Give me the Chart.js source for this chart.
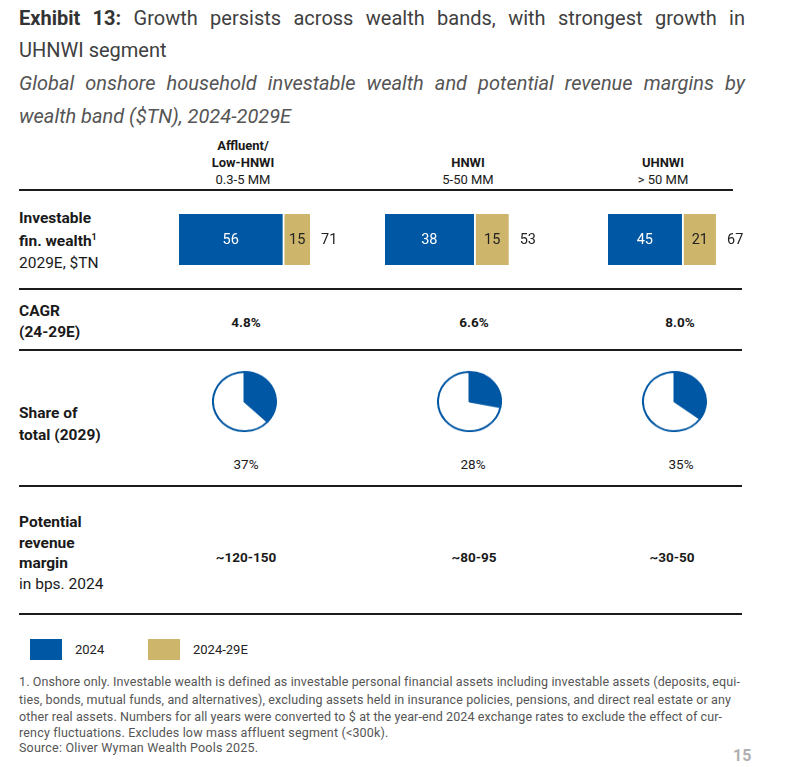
<!DOCTYPE html>
<html lang="en">
<head>
<meta charset="UTF-8">
<title>Exhibit 13</title>
<style>
    body {
        margin: 0;
        background: #fff;
        font-family: Roboto, "Noto Sans", sans-serif;
        color: #222;
    }
    #page {
        position: relative;
        width: 806px;
        height: 767px;
        overflow: hidden;
    }
    .t {
        position: absolute;
        white-space: nowrap;
    }
    .title {
        left: 19px;
        width: 726px;
        height: 33px;
        line-height: 33px;
        font-size: 20px;
        color: #404040;
    }
    .just {
        text-align: justify;
        text-align-last: justify;
    }
    .title b { color: #333; }
    .sub { font-style: italic; color: #555; }
    .rule {
        position: absolute;
        left: 19px;
        height: 2px;
        background: #1c1c1c;
    }
    .head {
        width: 140px;
        text-align: center;
        font-size: 13px;
        line-height: 17px;
        color: #1a1a1a;
    }
    .rowlab {
        left: 19px;
        font-size: 15.5px;
        font-weight: bold;
        color: #1a1a1a;
    }
    .rowlab span { font-weight: normal; }
    .rowlab sup { font-size: 9px; vertical-align: 6px; line-height: 0; }
    .val {
        width: 120px;
        text-align: center;
        font-size: 13.5px;
        line-height: 20px;
        color: #1a1a1a;
    }
    .sq {
        position: absolute;
        width: 32px;
        height: 21px;
        top: 639px;
    }
    .legtxt { top: 640px; font-size: 13px; line-height: 20px; color: #222; }
    .foot {
        left: 19px;
        font-size: 12.5px;
        line-height: 16px;
        color: #555;
        display: inline-block;
    }
    .pg { left: 733px; top: 746px; font-size: 16px; font-weight: bold; color: #b0b0b0; line-height: 20px; }
    canvas.bar, canvas.pie { position: absolute; }
    canvas.pie { transform: scaleY(0.94); }
</style>
</head>
<body>
<div id="page">
    <div class="t title just" style="top:2px"><b>Exhibit 13:</b> Growth persists across wealth bands, with strongest growth in</div>
    <div class="t title" style="top:34px">UHNWI segment</div>
    <div class="t title sub just" style="top:67px">Global onshore household investable wealth and potential revenue margins by</div>
    <div class="t title sub" style="top:100px">wealth band ($TN), 2024-2029E</div>

    <div class="rule" style="top:189px;width:714px"></div>
    <div class="rule" style="top:288px;width:723px"></div>
    <div class="rule" style="top:349px;width:723px"></div>
    <div class="rule" style="top:485px;width:723px"></div>
    <div class="rule" style="top:613px;width:723px"></div>

    <div class="t rowlab" style="top:207px;line-height:22.5px">Investable<br>fin. wealth<sup>1</sup><br><span>2029E, $TN</span></div>
    <div class="t rowlab" style="top:301px;line-height:21px">CAGR<br>(24-29E)</div>
    <div class="t rowlab" style="top:402px;line-height:22px">Share of<br>total (2029)</div>
    <div class="t rowlab" style="top:512px;line-height:20.7px">Potential<br>revenue<br>margin<br><span>in bps. 2024</span></div>

    <div class="sq" id="sq0" style="left:30px"></div>
    <div class="t legtxt" id="lg0" style="left:75px"></div>
    <div class="sq" id="sq1" style="left:148px"></div>
    <div class="t legtxt" id="lg1" style="left:193px"></div>

    <div class="t foot fit" data-w="720" style="top:674px">1. Onshore only. Investable wealth is defined as investable personal financial assets including investable assets (deposits, equi-</div>
    <div class="t foot fit" data-w="712" style="top:692px">ties, bonds, mutual funds, and alternatives), excluding assets held in insurance policies, pensions, and direct real estate or any</div>
    <div class="t foot fit" data-w="703" style="top:709px">other real assets. Numbers for all years were converted to $ at the year-end 2024 exchange rates to exclude the effect of cur-</div>
    <div class="t foot fit" data-w="368" style="top:725px">rency fluctuations. Excludes low mass affluent segment (&lt;300k).</div>
    <div class="t foot fit" data-w="239" style="top:740px">Source: Oliver Wyman Wealth Pools 2025.</div>
    <div class="t pg">15</div>
</div>

<script src="https://cdn.jsdelivr.net/npm/chart.js"></script>
<script>
    // data read from the exhibit
    const bandNames = [['Affluent/', 'Low-HNWI'], ['HNWI'], ['UHNWI']];
    const bandRanges = ['0.3-5 MM', '5-50 MM', '> 50 MM'];
    const seriesNames = ['2024', '2024-29E'];
    const wealth2024 = [56, 38, 45];
    const growth2429 = [15, 15, 21];
    const wealth2029 = [71, 53, 67];
    const cagr = [4.8, 6.6, 8.0];
    const share2029 = [37, 28, 35];
    const revenueMargin = ['~120-150', '~80-95', '~30-50'];

    // layout (px)
    const headX = [243, 468, 663];
    const barLeft = [179, 385, 608];
    const pxPerUnit = [1.845, 2.334, 1.636];
    const pieX = [244, 469, 674];
    const cagrX = [246, 474, 680];
    const shareX = [246, 473, 681];
    const marginX = [246, 474, 672];

    const BLUE = '#0057a4';
    const GOLD = '#cdb56c';
    const page = document.getElementById('page');

    document.getElementById('sq0').style.background = BLUE;
    document.getElementById('sq1').style.background = GOLD;
    document.getElementById('lg0').textContent = seriesNames[0];
    document.getElementById('lg1').textContent = seriesNames[1];

    function addText(cls, x, top, html) {
        const d = document.createElement('div');
        d.className = 't ' + cls;
        d.style.left = (x - 60) + 'px';
        d.style.top = top + 'px';
        d.innerHTML = html;
        page.appendChild(d);
        return d;
    }

    bandNames.forEach((lines, i) => {
        const html = lines.map(l => '<b>' + l + '</b>').join('<br>') + '<br>' + bandRanges[i];
        addText('head', headX[i] - 10, 179 + 8.5 - 17 * (lines.length + 1), html);
    });

    cagr.forEach((v, i) => addText('val', cagrX[i], 312, '<b>' + v.toFixed(1) + '%</b>'));
    share2029.forEach((v, i) => addText('val', shareX[i], 454, v + '%'));
    revenueMargin.forEach((v, i) => addText('val', marginX[i], 547, '<b>' + v + '</b>'));

    const barLabels = {
        id: 'barLabels',
        afterDatasetsDraw(chart) {
            const ctx = chart.ctx;
            const idx = chart.options.groupIndex;
            ctx.save();
            ctx.font = '14.5px Roboto';
            ctx.textBaseline = 'middle';
            ctx.textAlign = 'center';
            let end = 0, cy = 0;
            chart.data.datasets.forEach((ds, di) => {
                chart.getDatasetMeta(di).data.forEach((el, k) => {
                    const p = el.getCenterPoint();
                    ctx.fillStyle = di === 0 ? '#fff' : '#222';
                    ctx.fillText(ds.data[k], p.x + (di === 1 ? 1 : 0), p.y + 1);
                    end = Math.max(end, el.x);
                    cy = p.y;
                });
            });
            ctx.textAlign = 'left';
            ctx.fillStyle = '#222';
            ctx.fillText(wealth2029[idx], end + 11, cy + 1);
            ctx.restore();
        }
    };

    const barW = 170, barH = 51;
    wealth2024.forEach((v, i) => {
        const c = document.createElement('canvas');
        c.className = 'bar';
        c.width = barW;
        c.height = barH;
        c.style.left = barLeft[i] + 'px';
        c.style.top = '214px';
        page.appendChild(c);
        new Chart(c, {
            type: 'bar',
            data: {
                labels: [bandRanges[i]],
                datasets: [
                    { label: seriesNames[0], data: [wealth2024[i]], backgroundColor: BLUE, borderWidth: 0 },
                    { label: seriesNames[1], data: [growth2429[i]], backgroundColor: GOLD, borderColor: '#fff',
                      borderWidth: { left: 2.5, top: 0, right: 0, bottom: 0 }, borderSkipped: false }
                ]
            },
            options: {
                groupIndex: i,
                indexAxis: 'y',
                responsive: false,
                animation: false,
                events: [],
                layout: { padding: 0 },
                datasets: { bar: { categoryPercentage: 1, barPercentage: 1 } },
                scales: {
                    x: { stacked: true, min: 0, max: barW / pxPerUnit[i], display: false },
                    y: { stacked: true, display: false }
                },
                plugins: { legend: { display: false }, tooltip: { enabled: false } }
            },
            plugins: [barLabels]
        });
    });

    const pieSize = 65;
    share2029.forEach((v, i) => {
        const c = document.createElement('canvas');
        c.className = 'pie';
        c.width = pieSize;
        c.height = pieSize;
        c.style.left = (pieX[i] - pieSize / 2) + 'px';
        c.style.top = (401 - pieSize / 2) + 'px';
        page.appendChild(c);
        new Chart(c, {
            type: 'pie',
            data: {
                labels: ['Band', 'Other'],
                datasets: [{ data: [v, 100 - v], backgroundColor: [BLUE, '#fff'], borderColor: BLUE, borderWidth: 2 }]
            },
            options: {
                responsive: false,
                animation: false,
                events: [],
                plugins: { legend: { display: false }, tooltip: { enabled: false } }
            }
        });
    });

    function fitLines() {
        document.querySelectorAll('.fit').forEach(el => {
            el.style.letterSpacing = '0px';
            const w = el.getBoundingClientRect().width;
            const n = el.textContent.length - 1;
            el.style.letterSpacing = ((+el.dataset.w - w) / n) + 'px';
        });
    }
    fitLines();
    if (document.fonts) document.fonts.ready.then(fitLines);
</script>
</body>
</html>
